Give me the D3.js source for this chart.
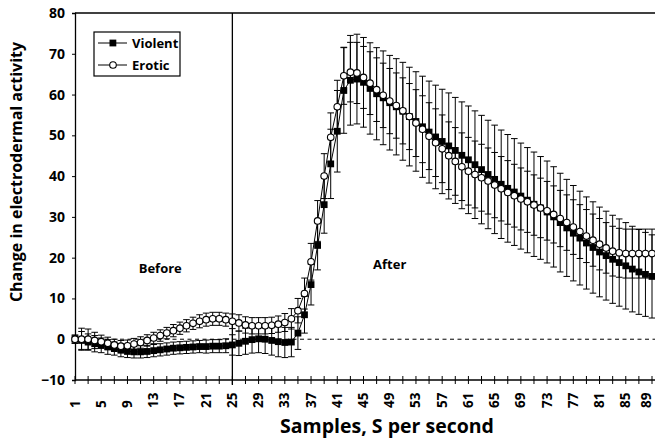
<!DOCTYPE html>
<html><head><meta charset="utf-8">
<script src="https://cdn.jsdelivr.net/npm/d3@7/dist/d3.min.js"></script>
<style>
html,body{margin:0;padding:0;background:#fff;}
text{font-family:"Open Sans",sans-serif;font-weight:700;fill:#000;}
</style></head>
<body>
<svg id="chart" width="655" height="441"></svg>
<script>
const categories = d3.range(1, 90);
const tickLabels = ["1","5","9","13","17","21","25","29","33","37","41","45","49","53","57","61","65","69","73","77","81","85","89"];
const yTicks = [-10,0,10,20,30,40,50,60,70,80];
const seriesNames = ["Violent","Erotic"];
const violent = [0,-0.3,-0.7,-1.1,-1.5,-1.9,-2.3,-2.7,-3.0,-3.1,-3.1,-3.0,-2.8,-2.6,-2.4,-2.2,-2.1,-2.0,-1.9,-1.8,-1.8,-1.7,-1.7,-1.6,-1.4,-1.0,-0.5,-0.1,0.1,0.0,-0.3,-0.6,-0.8,-0.7,1.5,6,13.4,23,33,43,51,61,63.5,63.8,63.0,61.5,60.2,59.2,58.0,57.0,55.9,54.6,53.4,52.1,50.8,49.6,48.5,47.4,46.3,45.1,44.0,42.8,41.6,40.4,39.2,38.0,37.0,36.1,35.1,34.1,33.1,32.2,31.2,30.0,28.6,27.3,26.0,24.8,23.6,22.5,21.4,20.5,19.6,18.8,18.0,17.2,16.5,15.9,15.4];
const erotic = [0,0,0,-0.3,-0.6,-1.0,-1.4,-1.7,-1.6,-1.2,-0.8,-0.3,0.3,0.9,1.5,2.1,2.7,3.3,3.9,4.4,4.8,5.0,5.0,4.8,4.4,4.0,3.5,3.3,3.3,3.3,3.4,3.7,4.1,5.0,7.0,11.2,19,29,40,49.5,57,64.6,65.5,65.3,64.2,62.8,61.2,59.8,58.4,57.3,56.0,54.6,53.0,51.5,49.8,48.2,46.7,45.0,43.6,42.3,41.2,40.4,39.6,38.8,37.8,36.9,36.0,35.2,34.4,33.7,32.9,32.2,31.5,30.6,29.6,28.6,27.5,26.4,25.3,24.3,23.3,22.4,21.6,21.2,21.0,21.0,21.0,21.0,21.0];
const violentErr = [1.0,2.2,2.0,2.0,1.8,1.8,1.6,1.6,1.5,1.5,1.5,1.5,1.5,1.5,1.5,1.5,1.5,1.5,1.5,1.5,1.6,1.6,1.6,1.7,2.5,3.0,3.2,3.3,3.4,3.5,3.6,3.7,3.7,3.6,4.0,4.5,5.0,6.0,7.0,8.5,10.0,10.5,11.0,11.0,11.0,11.2,11.3,11.5,11.6,11.8,12.0,12.1,12.2,12.4,12.5,12.7,12.8,13.0,13.0,13.1,13.2,13.2,13.3,13.3,13.3,13.3,13.2,13.1,13.0,12.9,12.8,12.6,12.5,12.3,12.1,11.9,11.7,11.5,11.3,11.2,11.0,10.9,10.8,10.7,10.6,10.5,10.4,10.3,10.2];
const eroticErr = [1.0,2.7,2.5,2.0,1.6,1.5,1.4,1.4,1.4,1.4,1.4,1.4,1.4,1.4,1.4,1.5,1.5,1.5,1.5,1.6,1.6,1.6,1.6,1.6,1.8,2.0,2.0,2.0,2.0,2.0,2.0,2.0,2.2,2.5,3.0,3.8,4.5,5.0,5.5,6.0,6.5,7.0,7.3,7.5,7.6,7.7,7.8,7.9,8.0,8.0,8.1,8.1,8.2,8.2,8.2,8.3,8.3,8.3,8.3,8.3,8.3,8.2,8.2,8.1,8.0,7.9,7.8,7.7,7.6,7.5,7.4,7.3,7.2,7.0,6.9,6.8,6.7,6.6,6.5,6.4,6.3,6.2,6.1,6.0,6.0,6.0,6.0,6.0,6.0];
const phaseLabels = [{text:"Before", c:14, v:16.2},{text:"After", c:49, v:17.2}];
const dividerCategory = 25;

const svg = d3.select("#chart");
const x = d3.scalePoint().domain(categories).range([75, 652]);
const y = d3.scaleLinear().domain([-10, 80]).range([380, 13]);

// top border
svg.append("line").attr("x1",75).attr("x2",655).attr("y1",y(80)).attr("y2",y(80)).attr("stroke","#000").attr("stroke-width",1.3);
// zero dashed line
svg.append("line").attr("x1",75).attr("x2",655).attr("y1",y(0)).attr("y2",y(0))
  .attr("stroke","#000").attr("stroke-width",1).attr("stroke-dasharray","4,3.5");
// divider line
svg.append("line").attr("x1",x(dividerCategory)).attr("x2",x(dividerCategory)).attr("y1",y(80)).attr("y2",y(-10)+5)
  .attr("stroke","#000").attr("stroke-width",1.3);

// y axis
const yAxis = d3.axisLeft(y).tickValues(yTicks).tickSize(3).tickPadding(7).tickFormat(d3.format("d"));
const gy = svg.append("g").attr("transform","translate(75,0)").call(yAxis);
gy.select(".domain").attr("stroke-width",1.3);
gy.selectAll("text").style("font-size","14px").style("font-family","'Open Sans',sans-serif").style("font-weight","700");

// x axis
const gx = svg.append("g").attr("transform",`translate(0,${y(-10)})`);
gx.append("line").attr("x1",75).attr("x2",655).attr("y1",0).attr("y2",0).attr("stroke","#000").attr("stroke-width",1.3);
const tickCats = categories.filter(c => c % 2 === 1);
gx.selectAll("line.tk").data(tickCats).join("line").attr("class","tk")
  .attr("x1",d=>x(d)).attr("x2",d=>x(d)).attr("y1",-4).attr("y2",4).attr("stroke","#000").attr("stroke-width",1);
gx.selectAll("text.tl").data(tickLabels).join("text").attr("class","tl")
  .attr("transform",d=>`translate(${Math.min(x(+d)+4.5, 650.5)},28) rotate(-90)`)
  .attr("text-anchor","start").style("font-size","13.5px").text(d=>d);

// error bars
const capW = 3.3;
function errBars(vals, errs, cls){
  const g = svg.append("g").attr("class",cls).attr("stroke","#000").attr("stroke-width",1);
  const data = categories.map((c,i)=>({c, v:vals[i], e:errs[i]}));
  g.selectAll("line.v").data(data).join("line").attr("class","v")
    .attr("x1",d=>x(d.c)).attr("x2",d=>x(d.c)).attr("y1",d=>y(d.v+d.e)).attr("y2",d=>y(d.v-d.e));
  g.selectAll("line.t").data(data).join("line").attr("class","t")
    .attr("x1",d=>x(d.c)-capW).attr("x2",d=>x(d.c)+capW).attr("y1",d=>y(d.v+d.e)).attr("y2",d=>y(d.v+d.e));
  g.selectAll("line.b").data(data).join("line").attr("class","b")
    .attr("x1",d=>x(d.c)-capW).attr("x2",d=>x(d.c)+capW).attr("y1",d=>y(d.v-d.e)).attr("y2",d=>y(d.v-d.e));
}
errBars(violent, violentErr, "ev");
errBars(erotic, eroticErr, "ee");

const line = d3.line().x((d,i)=>x(categories[i])).y(d=>y(d));
// violent
svg.append("path").datum(violent).attr("d",line).attr("fill","none").attr("stroke","#000").attr("stroke-width",1);
svg.append("g").selectAll("rect").data(violent).join("rect")
  .attr("x",(d,i)=>x(categories[i])-3.4).attr("y",d=>y(d)-3.4).attr("width",6.8).attr("height",6.8).attr("fill","#000");
// erotic
svg.append("path").datum(erotic).attr("d",line).attr("fill","none").attr("stroke","#000").attr("stroke-width",1);
svg.append("g").selectAll("circle").data(erotic).join("circle")
  .attr("cx",(d,i)=>x(categories[i])).attr("cy",d=>y(d)).attr("r",3.3).attr("fill","#fff").attr("stroke","#000").attr("stroke-width",1.1);

// phase labels
svg.selectAll("text.ph").data(phaseLabels).join("text").attr("class","ph")
  .attr("x",d=>x(d.c)).attr("y",d=>y(d.v))
  .attr("text-anchor","middle").style("font-size","13px").text(d=>d.text);

// legend
const lg = svg.append("g").attr("transform","translate(94,32)");
lg.append("rect").attr("x",0).attr("y",0).attr("width",86).attr("height",44).attr("fill","#fff").attr("stroke","#000").attr("stroke-width",1.2);
seriesNames.forEach((name,i)=>{
  const yy = 11 + i*22;
  lg.append("line").attr("x1",4).attr("x2",33).attr("y1",yy).attr("y2",yy).attr("stroke","#000").attr("stroke-width",1);
  if(i===0) lg.append("rect").attr("x",15.5).attr("y",yy-3.4).attr("width",6.8).attr("height",6.8).attr("fill","#000");
  else lg.append("circle").attr("cx",19).attr("cy",yy).attr("r",3.3).attr("fill","#fff").attr("stroke","#000").attr("stroke-width",1.1);
  lg.append("text").attr("x",38).attr("y",yy+4.5).style("font-size","13px").text(name);
});

// axis titles
svg.append("text").attr("transform","translate(22,172) rotate(-90)").attr("text-anchor","middle")
  .style("font-size","16px").text("Change in electrodermal activity");
svg.append("text").attr("x",387).attr("y",433).attr("text-anchor","middle")
  .style("font-size","19.5px").text("Samples, S per second");
</script>
</body></html>
